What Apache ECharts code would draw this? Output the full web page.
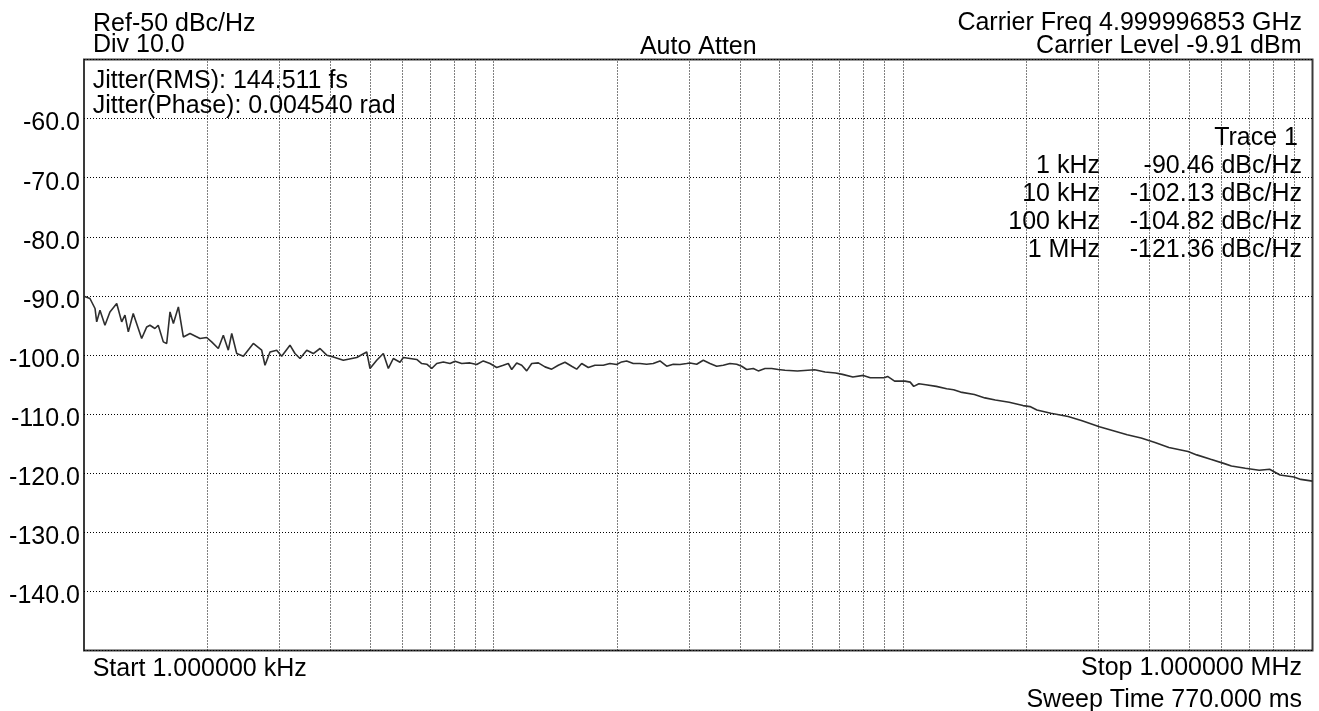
<!DOCTYPE html>
<html>
<head>
<meta charset="utf-8">
<script src="https://cdn.jsdelivr.net/npm/echarts@6/dist/echarts.min.js"></script>
<style>
html,body{margin:0;padding:0;background:#fff;}
#chart{width:1319px;height:711px;}
</style>
</head>
<body>
<div id="chart"></div>
<script>
// ---- data ----
const freqHz = [
  1000,1034,1064,1074,1094,1125,1157,1202,1236,1259,1283,1319,1383,1423,1449,1490,1518,1562,1592,1622,
  1653,1700,1748,1815,1920,1993,2050,2128,2189,2251,2295,2360,2450,2591,2716,2767,2846,2955,3039,3184,
  3275,3369,3499,3631,3770,3915,4063,4298,4635,4902,4994,5186,5382,5536,5693,5912,6023,6254,6494,6679,
  6870,7066,7267,7542,7831,8054,8363,8762,9099,9443,9805,10181,10567,10868,11078,11394,11719,12053,12397,12866,
  13359,13871,14396,14948,15521,15963,16419,17039,17692,18536,19248,19986,20556,21142,21941,22782,23656,24550,25497,26478,
  27479,28533,29630,30185,31344,32527,33777,35073,36400,37800,39250,40369,41521,43092,44321,46026,47791,49597,51502,55234,
  60852,64516,68441,71150,75430,79986,83196,89962,91700,95389,101130,104130,106200,109350,113680,120590,127840,132900,138240,149410,
  158490,168040,181680,196350,204230,212310,229600,253140,273750,301720,326300,352770,381460,412480,446030,496650,521580,563990,609470,633930,
  685490,741080,785720,833080,900640,936340,1000000
];
const levelDbc = [
  -90.05,-90.44,-92.13,-94.40,-92.42,-94.96,-92.71,-91.29,-94.40,-93.27,-96.09,-92.98,-97.21,-95.25,-94.96,-95.52,-94.96,-97.78,-98.05,-92.71,
  -94.67,-91.86,-96.94,-96.36,-97.21,-97.04,-97.78,-98.90,-96.65,-99.19,-96.36,-99.75,-100.20,-98.05,-99.19,-101.73,-99.48,-99.19,-100.20,-98.34,
  -99.75,-100.59,-99.19,-99.75,-98.90,-100.03,-100.32,-100.88,-100.42,-99.48,-102.28,-100.88,-99.75,-102.28,-100.59,-101.22,-100.42,-100.59,-100.76,-101.44,
  -101.56,-102.28,-101.44,-101.17,-101.44,-101.05,-101.44,-101.34,-101.61,-101.00,-101.44,-102.11,-101.73,-101.44,-102.45,-101.34,-101.73,-102.69,-101.44,-101.34,
  -102.01,-102.40,-101.73,-101.22,-101.90,-102.40,-101.44,-102.11,-101.73,-101.73,-101.44,-101.61,-101.17,-101.00,-101.44,-101.44,-101.56,-101.44,-101.00,-101.90,
  -101.56,-101.61,-101.44,-101.34,-101.56,-100.88,-101.44,-101.90,-101.73,-101.44,-101.56,-101.90,-102.45,-102.28,-102.69,-102.28,-102.28,-102.45,-102.57,-102.71,
  -102.49,-102.88,-103.05,-103.28,-103.72,-103.45,-103.84,-103.84,-103.62,-104.42,-104.42,-104.59,-105.31,-104.87,-105.04,-105.31,-105.72,-105.89,-106.28,-106.68,
  -107.26,-107.60,-107.99,-108.56,-108.73,-109.29,-109.86,-110.42,-111.12,-112.13,-112.81,-113.50,-114.06,-114.81,-115.65,-116.33,-116.90,-117.65,-118.38,-118.78,
  -119.17,-119.51,-119.34,-120.30,-120.64,-121.05,-121.34
];
const gridFreqs = [2000,3000,4000,5000,6000,7000,8000,9000,10000,
  20000,30000,40000,50000,60000,70000,80000,90000,100000,
  200000,300000,400000,500000,600000,700000,800000,900000];
const yTicks = [-60,-70,-80,-90,-100,-110,-120,-130,-140];
const headerLeft = ['Ref-50 dBc/Hz', 'Div 10.0'];
const headerCenter = 'Auto Atten';
const headerRight = ['Carrier Freq 4.999996853 GHz', 'Carrier Level -9.91 dBm'];
const jitterLines = ['Jitter(RMS): 144.511 fs', 'Jitter(Phase): 0.004540 rad'];
const traceTitle = 'Trace 1';
const markerFreqLabels = ['1 kHz', '10 kHz', '100 kHz', '1 MHz'];
const markerValueLabels = ['-90.46 dBc/Hz', '-102.13 dBc/Hz', '-104.82 dBc/Hz', '-121.36 dBc/Hz'];
const footerLeft = 'Start 1.000000 kHz';
const footerRight = ['Stop 1.000000 MHz', 'Sweep Time 770.000 ms'];

// ---- styling ----
const FONT = '"Liberation Sans", Arial, sans-serif';
const FS = 25;
function txt(text, x, y, align) {
  return {
    type: 'text', x: x, y: y + 1.2, silent: true,
    style: { text: text, fill: '#000', fontSize: FS, fontFamily: FONT,
             align: align, verticalAlign: 'middle' }
  };
}
const graphics = [
  txt(headerLeft[0], 93, 23, 'left'),
  txt(headerLeft[1], 93, 43.8, 'left'),
  txt(headerCenter, 698.3, 45.5, 'center'),
  txt(headerRight[0], 1302, 21.7, 'right'),
  txt(headerRight[1], 1301.5, 45, 'right'),
  txt(jitterLines[0], 92.7, 79.5, 'left'),
  txt(jitterLines[1], 92.7, 105, 'left'),
  txt(traceTitle, 1298, 136.5, 'right'),
  txt(footerLeft, 92.7, 668, 'left'),
  txt(footerRight[0], 1302, 667, 'right'),
  txt(footerRight[1], 1302, 698.7, 'right')
];
const rowY = [164.8, 192.6, 220.6, 248.6];
markerFreqLabels.forEach((t, i) => graphics.push(txt(t, 1100, rowY[i], 'right')));
markerValueLabels.forEach((t, i) => graphics.push(txt(t, 1302, rowY[i], 'right')));

const chart = echarts.init(document.getElementById('chart'), null, { renderer: 'canvas' });
chart.setOption({
  animation: false,
  backgroundColor: '#fff',
  grid: [
    { show: true, left: 84, top: 59.5, right: 6.5, bottom: 60.5,
      borderColor: '#3a3a3a', borderWidth: 2, backgroundColor: '#fff' },
    // label-only grid: the instrument prints its scale text slightly below each division line
    { show: false, left: 84, top: 64.5, right: 6.5, bottom: 55.5 }
  ],
  xAxis: [
    { type: 'log', logBase: 10, min: 1000, max: 1000000, gridIndex: 0,
      axisLine: { show: false }, axisTick: { show: false }, axisLabel: { show: false },
      splitLine: { show: false } },
    { type: 'log', logBase: 10, min: 1000, max: 1000000, gridIndex: 1, show: false }
  ],
  yAxis: [
    { type: 'value', min: -150, max: -50, interval: 10, gridIndex: 0,
      axisLine: { show: false }, axisTick: { show: false }, axisLabel: { show: false },
      splitLine: { show: true, lineStyle: { color: '#000', width: 1, type: [1, 2] } } },
    { type: 'value', min: -150, max: -50, interval: 10, gridIndex: 1,
      axisLine: { show: false }, axisTick: { show: false }, splitLine: { show: false },
      axisLabel: {
        color: '#000', fontSize: FS, fontFamily: FONT, margin: 4,
        formatter: v => (yTicks.indexOf(v) >= 0 ? v.toFixed(1) : '')
      } }
  ],
  series: [{
    type: 'line',
    xAxisIndex: 0, yAxisIndex: 0,
    data: freqHz.map((f, i) => [f, levelDbc[i]]),
    showSymbol: false, symbol: 'none',
    lineStyle: { color: '#2e2e2e', width: 1.6 },
    z: 5,
    markLine: {
      silent: true, symbol: 'none', animation: false,
      label: { show: false },
      emphasis: { disabled: true },
      lineStyle: { color: '#000', width: 1, type: [1, 2] },
      data: gridFreqs.map(f => ({ xAxis: f }))
    }
  }],
  graphic: graphics
});
</script>
</body>
</html>
